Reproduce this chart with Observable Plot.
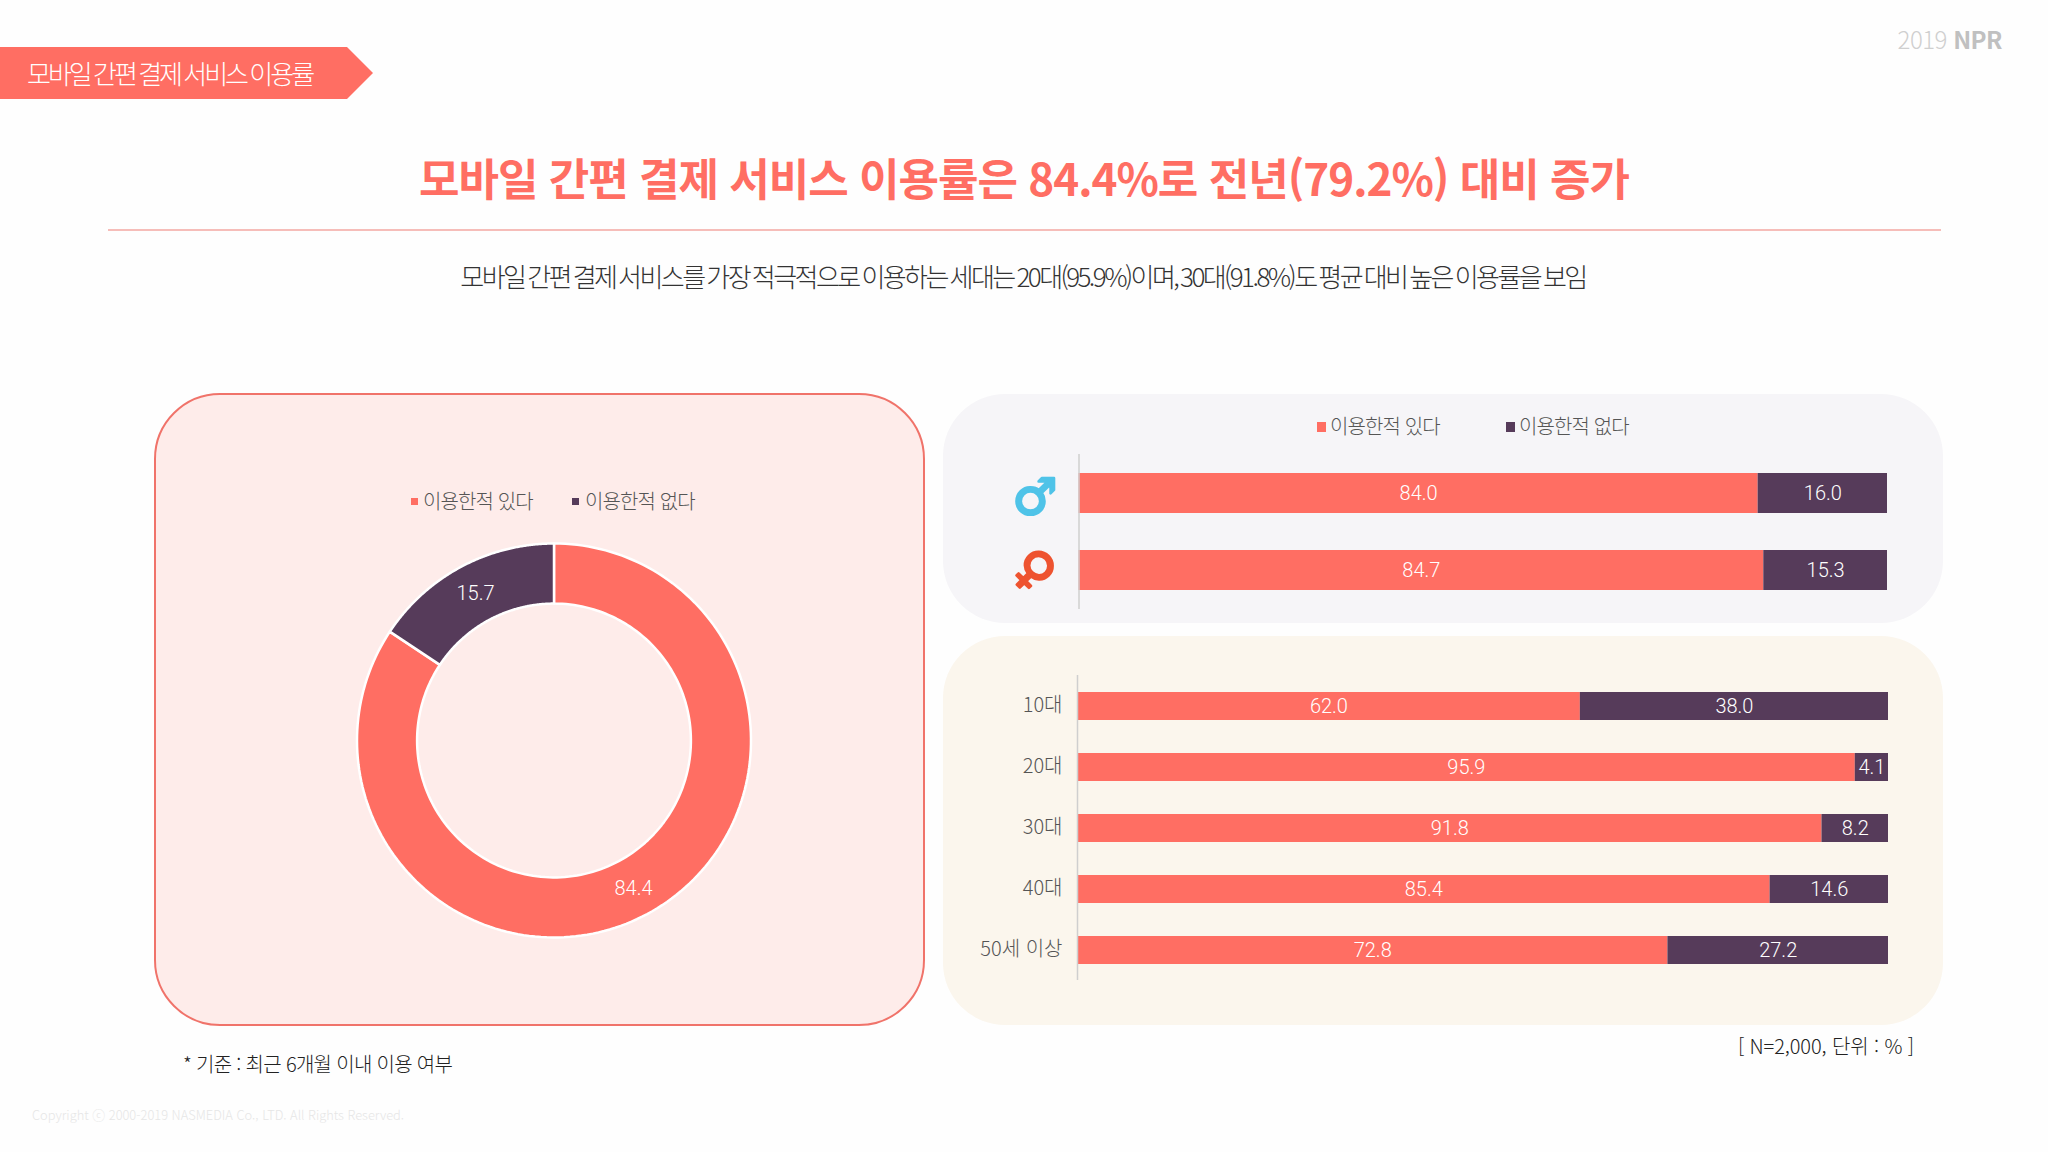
<!DOCTYPE html>
<html lang="ko">
<head>
<meta charset="utf-8">
<script src="https://cdn.jsdelivr.net/npm/d3@7"></script>
<script src="https://cdn.jsdelivr.net/npm/@observablehq/plot@0.6"></script>
<style>
html,body{margin:0;padding:0;background:#fefefe;}
body{width:2048px;height:1152px;position:relative;overflow:hidden;font-family:"Noto Sans CJK KR","Noto Sans",sans-serif;font-weight:300;}
.t{position:absolute;white-space:nowrap;line-height:1;}
.box{position:absolute;box-sizing:border-box;}
.plot{position:absolute;}
.plot svg{display:block;background:transparent;}
.sq{position:absolute;}
</style>
</head>
<body>
<div class="box" style="left:0;top:47px;width:373px;height:52px;background:#ff6e63;clip-path:polygon(0 0,347px 0,373px 26px,347px 52px,0 52px)"></div>
<div class="t" id="ribbon" style="left:27px;top:60px;font-size:26px;letter-spacing:-3px;word-spacing:-1px;color:#fff;">모바일 간편 결제 서비스 이용률</div>
<div class="t" style="right:46px;top:27px;font-size:24px;letter-spacing:-0.5px;color:#cfcfcf;">2019 <b style="color:#c0c0c0;font-weight:700">NPR</b></div>
<div class="t" style="left:0;width:2048px;text-align:center;top:155px;font-size:44px;font-weight:700;letter-spacing:-1px;color:#ff6e63;">모바일 간편 결제 서비스 이용률은 84.4%로 전년(79.2%) 대비 증가</div>
<div class="box" style="left:108px;top:229px;width:1833px;height:2px;background:#f6bdb9"></div>
<div class="t" style="left:0;width:2046px;text-align:center;top:263px;font-size:26px;letter-spacing:-2.55px;word-spacing:-2px;color:#333;">모바일 간편 결제 서비스를 가장 적극적으로 이용하는 세대는 20대(95.9%)이며, 30대(91.8%)도 평균 대비 높은 이용률을 보임</div>

<div class="box" style="left:154px;top:393px;width:771px;height:633px;border-radius:66px;background:#feecea;border:2.5px solid #f0736a"></div>
<div class="box" style="left:943px;top:394px;width:1000px;height:229px;border-radius:62px;background:#f6f5f8"></div>
<div class="box" style="left:943px;top:636px;width:1000px;height:389px;border-radius:62px;background:#fbf6ed"></div>

<div class="sq" style="left:411px;top:498px;width:7px;height:7px;background:#ff6e63"></div>
<div class="t" style="left:423px;top:491px;font-size:20px;letter-spacing:-0.9px;color:#555;">이용한적 있다</div>
<div class="sq" style="left:572px;top:498px;width:7px;height:7px;background:#563b5a"></div>
<div class="t" style="left:585px;top:491px;font-size:20px;letter-spacing:-0.9px;color:#555;">이용한적 없다</div>

<div class="sq" style="left:1317px;top:422px;width:9px;height:10px;background:#ff6e63"></div>
<div class="t" style="left:1330px;top:416px;font-size:20px;letter-spacing:-0.9px;color:#555;">이용한적 있다</div>
<div class="sq" style="left:1506px;top:422px;width:9px;height:10px;background:#563b5a"></div>
<div class="t" style="left:1519px;top:416px;font-size:20px;letter-spacing:-0.9px;color:#555;">이용한적 없다</div>

<div class="plot" id="donut" style="left:154px;top:393px"></div>
<div class="plot" id="gender" style="left:943px;top:394px"></div>
<div class="plot" id="age" style="left:943px;top:636px"></div>

<div class="t" style="left:183px;top:1054px;font-size:20px;letter-spacing:-0.7px;color:#222;">* 기준 : 최근 6개월 이내 이용 여부</div>
<div class="t" style="right:134px;top:1036px;font-size:20px;letter-spacing:-0.1px;color:#222;">[ N=2,000, 단위 : % ]</div>
<div class="t" style="left:32px;top:1109px;font-size:12.85px;color:#e6e6e6;">Copyright ⓒ 2000-2019 NASMEDIA Co., LTD. All Rights Reserved.</div>

<script>
const kinds = ["이용한적 있다", "이용한적 없다"];
const palette = ["#ff6e63", "#563b5a"];

const donutValues = [84.4, 15.7];

const genderLabels = ["♂", "♀"];
const genderYes = [84.0, 84.7];
const genderNo = [16.0, 15.3];

const ageLabels = ["10대", "20대", "30대", "40대", "50세 이상"];
const ageYes = [62.0, 95.9, 91.8, 85.4, 72.8];
const ageNo = [38.0, 4.1, 8.2, 14.6, 27.2];

const font = '"Noto Sans CJK KR","Noto Sans",sans-serif';
const numberFont = 'Roboto,"Noto Sans",sans-serif';
const color = {domain: kinds, range: palette};
const rowsOf = (labels, yes, no) => labels.flatMap((cat, i) => [
  {cat, kind: kinds[0], value: yes[i]},
  {cat, kind: kinds[1], value: no[i]}
]);
const stackBars = (rows) => [
  Plot.barX(rows, {x: "value", y: "cat", fill: "kind", z: "kind"}),
  Plot.text(rows, Plot.stackX({x: "value", y: "cat", z: "kind", text: d => d.value.toFixed(1), fill: "white", fontSize: 20, fontFamily: numberFont, fontWeight: 300}))
];

// Donut: ring slices drawn with Plot's area mark on linear x/y scales
const total = d3.sum(donutValues);
const rOuter = 1, rInner = 0.695, rLabel = (rOuter + rInner) / 2;
let cum = 0;
const slices = donutValues.map((v, i) => {
  const a0 = cum / total * 2 * Math.PI; cum += v;
  const a1 = cum / total * 2 * Math.PI;
  return {kind: kinds[i], value: v, a0, a1};
});
const ringPoints = slices.flatMap(s => d3.range(0, 181).map(k => {
  const a = s.a0 + (s.a1 - s.a0) * k / 180;
  return {kind: s.kind, x1: rOuter * Math.sin(a), y1: rOuter * Math.cos(a), x2: rInner * Math.sin(a), y2: rInner * Math.cos(a)};
}));
const labelPoints = slices.map(s => {
  const a = (s.a0 + s.a1) / 2;
  return {x: rLabel * Math.sin(a), y: rLabel * Math.cos(a), text: s.value.toFixed(1)};
});
document.getElementById("donut").append(Plot.plot({
  width: 771, height: 633, margin: 0, style: {fontFamily: font, background: "transparent"},
  x: {domain: [-1, 1], range: [203, 597], axis: null},
  y: {domain: [-1, 1], range: [544.5, 150.5], axis: null},
  color,
  marks: [
    Plot.area(ringPoints, {x1: "x1", y1: "y1", x2: "x2", y2: "y2", z: "kind", fill: "kind", stroke: "white", strokeWidth: 2.5}),
    Plot.text(labelPoints, {x: "x", y: "y", text: "text", fill: "white", fontSize: 20, fontFamily: numberFont, fontWeight: 300})
  ]
}));

// Gender bars
document.getElementById("gender").append(Plot.plot({
  width: 1000, height: 229, marginTop: 60, marginBottom: 14, marginLeft: 135.5, marginRight: 56,
  style: {fontFamily: font, background: "transparent"},
  x: {domain: [0, 100], axis: null},
  y: {domain: genderLabels, paddingInner: 0.484, paddingOuter: 0.242, axis: null},
  color,
  marks: [
    ...stackBars(rowsOf(genderLabels, genderYes, genderNo)),
    Plot.ruleX([0], {stroke: "#cfcfcf", strokeWidth: 1.5}),
    Plot.text([genderLabels[0]], {y: d => d, frameAnchor: "left", dx: -44, dy: 4, text: d => d, textAnchor: "middle",
      fill: "#4fc3e8", stroke: "#4fc3e8", strokeWidth: 2.5, fontSize: 50, fontFamily: "DejaVu Sans", fontWeight: 400}),
    Plot.text([genderLabels[1]], {y: d => d, frameAnchor: "left", dx: -45, dy: 0, text: d => d, textAnchor: "middle", rotate: 45,
      fill: "#ee5330", stroke: "#ee5330", strokeWidth: 2.5, fontSize: 50, fontFamily: "DejaVu Sans", fontWeight: 400})
  ]
}));

// Age bars
document.getElementById("age").append(Plot.plot({
  width: 1000, height: 389, marginTop: 39, marginBottom: 45, marginLeft: 134, marginRight: 55,
  style: {fontFamily: font, background: "transparent", fontWeight: 300},
  x: {domain: [0, 100], axis: null},
  y: {domain: ageLabels, paddingInner: 0.541, paddingOuter: 0.2705, axis: null},
  color,
  marks: [
    ...stackBars(rowsOf(ageLabels, ageYes, ageNo)),
    Plot.ruleX([0], {stroke: "#cfcfcf", strokeWidth: 1.5}),
    Plot.axisY({anchor: "left", tickSize: 0, tickPadding: 15, fontSize: 20, color: "#555", label: null, dy: -1})
  ]
}));
</script>
</body>
</html>
